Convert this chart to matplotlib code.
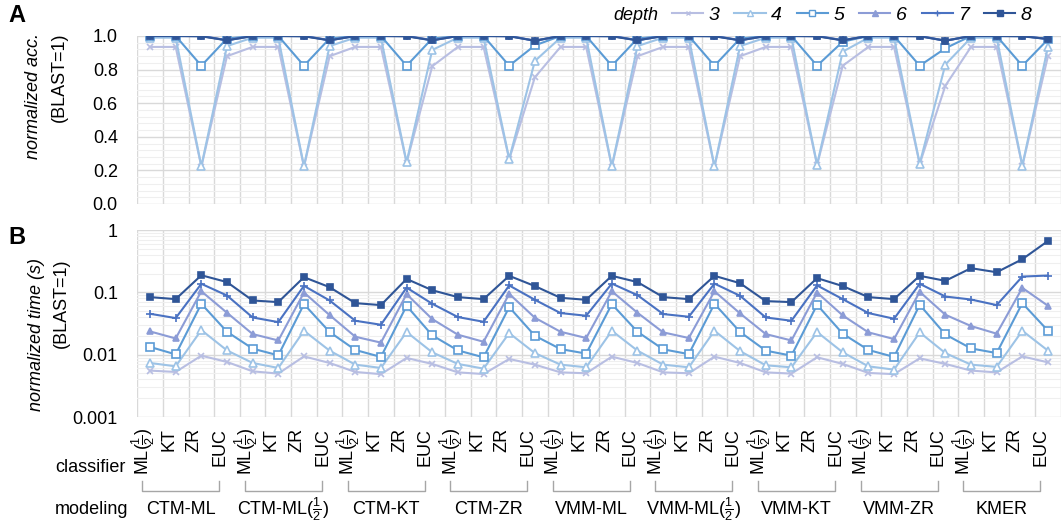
import matplotlib.pyplot as plt
from matplotlib.ticker import FixedLocator, MultipleLocator, NullFormatter, LogLocator
from matplotlib.transforms import ScaledTranslation, blended_transform_factory
from matplotlib.lines import Line2D

plt.rcParams['font.family'] = ['Liberation Sans', 'DejaVu Sans']
plt.rcParams['mathtext.fontset'] = 'custom'
plt.rcParams['mathtext.rm'] = 'Liberation Sans'
plt.rcParams['mathtext.it'] = 'Liberation Sans:italic'

classifiers = [r'ML($\frac{1}{2}$)', 'KT', 'ZR', 'EUC']
models = ['CTM-ML', r'CTM-ML($\frac{1}{2}$)', 'CTM-KT', 'CTM-ZR', 'VMM-ML',
          r'VMM-ML($\frac{1}{2}$)', 'VMM-KT', 'VMM-ZR', 'KMER']
depths = [3, 4, 5, 6, 7, 8]

# normalized accuracy, 4 classifiers per modeling group (ML(1/2), KT, ZR, EUC)
acc_3 = [0.935, 0.935, 0.222, 0.88,  0.935, 0.935, 0.222, 0.88,  0.935, 0.935, 0.246, 0.82,
         0.935, 0.935, 0.266, 0.754, 0.935, 0.935, 0.222, 0.88,  0.935, 0.935, 0.222, 0.88,
         0.935, 0.935, 0.232, 0.823, 0.935, 0.935, 0.238, 0.704, 0.935, 0.935, 0.226, 0.88]
acc_4 = [0.99, 0.99, 0.225, 0.94,  0.99, 0.99, 0.225, 0.94,  0.99, 0.99, 0.249, 0.917,
         0.99, 0.99, 0.269, 0.851, 0.99, 0.99, 0.225, 0.94,  0.99, 0.99, 0.225, 0.94,
         0.99, 0.99, 0.235, 0.907, 0.99, 0.99, 0.241, 0.83,  0.99, 0.99, 0.229, 0.936]
acc_5 = [1.0, 1.0, 0.823, 0.985, 1.0, 1.0, 0.823, 0.985, 1.0, 1.0, 0.823, 0.985,
         1.0, 1.0, 0.823, 0.944, 1.0, 1.0, 0.823, 0.985, 1.0, 1.0, 0.823, 0.985,
         1.0, 1.0, 0.823, 0.966, 1.0, 1.0, 0.823, 0.927, 1.0, 1.0, 0.823, 0.98]
acc_6 = [1.0, 1.0, 1.0, 0.975, 1.0, 1.0, 1.0, 0.975, 1.0, 1.0, 1.0, 0.975,
         1.0, 1.0, 1.0, 0.972, 1.0, 1.0, 1.0, 0.975, 1.0, 1.0, 1.0, 0.975,
         1.0, 1.0, 1.0, 0.975, 1.0, 1.0, 1.0, 0.972, 1.0, 1.0, 1.0, 0.982]
acc_7 = [1.0, 1.0, 1.0, 0.975, 1.0, 1.0, 1.0, 0.975, 1.0, 1.0, 1.0, 0.975,
         1.0, 1.0, 1.0, 0.972, 1.0, 1.0, 1.0, 0.975, 1.0, 1.0, 1.0, 0.975,
         1.0, 1.0, 1.0, 0.975, 1.0, 1.0, 1.0, 0.972, 1.0, 1.0, 1.0, 0.982]
acc_8 = [1.0, 1.0, 0.998, 0.974, 1.0, 1.0, 0.998, 0.974, 1.0, 1.0, 0.998, 0.974,
         1.0, 1.0, 0.998, 0.972, 1.0, 1.0, 0.998, 0.974, 1.0, 1.0, 0.998, 0.974,
         1.0, 1.0, 0.998, 0.974, 1.0, 1.0, 0.998, 0.972, 1.0, 1.0, 0.998, 0.982]

# normalized time (s)
time_3 = [0.00555, 0.00528, 0.00964, 0.00764, 0.0054, 0.00497, 0.00938, 0.00736,
          0.00528, 0.00487, 0.00885, 0.0071, 0.0052, 0.00489, 0.00853, 0.00692,
          0.0052, 0.00503, 0.00929, 0.00736, 0.0052, 0.00503, 0.00929, 0.00736,
          0.0052, 0.00497, 0.00908, 0.0071, 0.00509, 0.00487, 0.00873, 0.0071,
          0.00555, 0.0052, 0.00938, 0.00753]
time_4 = [0.00736, 0.0065, 0.0248, 0.0117, 0.00736, 0.00612, 0.0242, 0.0116,
          0.00692, 0.00612, 0.0231, 0.0109, 0.0071, 0.00597, 0.0222, 0.0106,
          0.00692, 0.00627, 0.0242, 0.0116, 0.00692, 0.00627, 0.0242, 0.0114,
          0.00675, 0.00627, 0.0231, 0.0109, 0.0065, 0.00575, 0.0228, 0.0106,
          0.00692, 0.00636, 0.0242, 0.0116]
time_5 = [0.0133, 0.0101, 0.0655, 0.0233, 0.0125, 0.00975, 0.0647, 0.0231,
          0.0119, 0.00919, 0.0608, 0.0204, 0.0117, 0.00906, 0.0579, 0.0201,
          0.0123, 0.0104, 0.0647, 0.0233, 0.0122, 0.0102, 0.0655, 0.0231,
          0.0116, 0.00964, 0.0631, 0.0217, 0.0119, 0.00919, 0.0631, 0.0211,
          0.0126, 0.0106, 0.0671, 0.0242]
time_6 = [0.0236, 0.0182, 0.104, 0.047, 0.0214, 0.0169, 0.0993, 0.0431,
          0.0194, 0.0156, 0.0935, 0.0372, 0.0209, 0.0161, 0.0946, 0.0391,
          0.0233, 0.0185, 0.104, 0.047, 0.0228, 0.0185, 0.104, 0.0458,
          0.0214, 0.0169, 0.0993, 0.0426, 0.0228, 0.0178, 0.102, 0.0437,
          0.0288, 0.0217, 0.118, 0.0608]
time_7 = [0.0453, 0.0386, 0.137, 0.0889, 0.0395, 0.0333, 0.127, 0.074,
          0.035, 0.0302, 0.119, 0.0655, 0.0401, 0.0337, 0.129, 0.0759,
          0.0465, 0.0421, 0.138, 0.0901, 0.0448, 0.0406, 0.138, 0.0879,
          0.0395, 0.035, 0.129, 0.0778, 0.0465, 0.0377, 0.137, 0.0857,
          0.0767, 0.0624, 0.179, 0.186]
time_8 = [0.0838, 0.0778, 0.188, 0.146, 0.074, 0.0697, 0.175, 0.121,
          0.0671, 0.0624, 0.164, 0.108, 0.0838, 0.0778, 0.184, 0.126,
          0.0817, 0.0759, 0.184, 0.146, 0.0838, 0.0778, 0.184, 0.14,
          0.0723, 0.0697, 0.169, 0.126, 0.0838, 0.0778, 0.184, 0.153,
          0.244, 0.21, 0.34, 0.667]

acc = [acc_3, acc_4, acc_5, acc_6, acc_7, acc_8]
times = [time_3, time_4, time_5, time_6, time_7, time_8]

COLORS = ['#B8BEE2', '#9DC3E6', '#5B9BD5', '#8C9CD6', '#4A72C2', '#2F5597']
MARKERS = ['x', '^', 's', '^', '+', 's']
FILLED = [True, False, False, True, True, True]
MSIZE = [4, 6, 6, 5, 6, 5]

W, H = 1061, 523
fig = plt.figure(figsize=(W / 100, H / 100), dpi=100)
left = 137.2 / W
width = 923.6 / W
axA = fig.add_axes([left, 1 - 204 / H, width, 168 / H])
axB = fig.add_axes([left, 1 - 417 / H, width, 187 / H])

x = list(range(len(models) * len(classifiers)))

for ax, data in [(axA, acc), (axB, times)]:
    for i, d in enumerate(depths):
        ax.plot(x, data[i], marker=MARKERS[i], color=COLORS[i],
                markersize=MSIZE[i], linewidth=1.5,
                markerfacecolor=COLORS[i] if FILLED[i] else 'white',
                markeredgewidth=1.2, label=str(d))
    ax.set_xlim(-0.5, len(x) - 0.5)
    ax.xaxis.set_minor_locator(FixedLocator([k - 0.5 for k in range(len(x) + 1)]))
    ax.grid(axis='x', which='minor', color='#D9D9D9', linewidth=1)
    ax.grid(axis='y', which='major', color='#D9D9D9', linewidth=1)
    ax.grid(axis='y', which='minor', color='#EFEFEF', linewidth=0.8)
    ax.set_axisbelow(True)
    for s in ax.spines.values():
        s.set_visible(False)
    ax.tick_params(which='both', length=0, labelsize=13)
    ax.tick_params(axis='y', pad=14)

# panel A
axA.set_ylim(0, 1)
axA.yaxis.set_major_locator(MultipleLocator(0.2))
axA.yaxis.set_minor_locator(MultipleLocator(0.04))
axA.set_yticklabels([f'{v:.1f}' for v in axA.get_yticks()])
axA.set_xticks(x)
axA.set_xticklabels([])

# panel B
axB.set_yscale('log')
axB.set_ylim(0.001, 1)
axB.yaxis.set_major_locator(FixedLocator([0.001, 0.01, 0.1, 1]))
axB.set_yticklabels(['0.001', '0.01', '0.1', '1'])
axB.yaxis.set_minor_locator(LogLocator(base=10, subs=range(2, 10)))
axB.yaxis.set_minor_formatter(NullFormatter())
axB.set_xticks(x)
axB.set_xticklabels(classifiers * len(models), rotation=90, fontsize=13)
axB.tick_params(axis='x', pad=8)
shift = ScaledTranslation(-0.07, 0, fig.dpi_scale_trans)
for lab in axB.get_xticklabels():
    lab.set_transform(lab.get_transform() + shift)

# brackets and modeling names
trans = blended_transform_factory(axB.transData, fig.transFigure)
y_line = 1 - 491 / H
y_tick = 1 - 481 / H
for g, name in enumerate(models):
    x0 = 4 * g - 0.3
    x1 = 4 * g + 3 - 0.3
    axB.plot([x0, x0, x1, x1], [y_tick, y_line, y_line, y_tick], color='#A6A6A6',
             linewidth=1, transform=trans, clip_on=False)
    axB.text((x0 + x1) / 2, 1 - 509 / H, name, transform=trans,
             ha='center', va='center', fontsize=13)

fig.text(55 / W, 1 - 468 / H, 'classifier', ha='left', va='center', fontsize=13)
fig.text(55 / W, 1 - 509 / H, 'modeling', ha='left', va='center', fontsize=13)

# y labels
fig.text(34 / W, 1 - 33 / H, 'normalized acc.', rotation=90, ha='center', va='top',
         fontsize=13, style='italic')
fig.text(59 / W, 1 - 33 / H, '(BLAST=1)', rotation=90, ha='center', va='top', fontsize=13)
fig.text(37 / W, 1 - 258 / H, 'normalized time (s)', rotation=90, ha='center', va='top',
         fontsize=13, style='italic')
fig.text(61 / W, 1 - 258 / H, '(BLAST=1)', rotation=90, ha='center', va='top', fontsize=13)

# panel letters
fig.text(8 / W, 1 - 15 / H, 'A', fontsize=17, fontweight='bold', ha='left', va='center')
fig.text(8 / W, 1 - 238 / H, 'B', fontsize=17, fontweight='bold', ha='left', va='center')

# legend
handles = [Line2D([], [], marker=MARKERS[i], color=COLORS[i], markersize=MSIZE[i] - 1,
                  linewidth=1.5,
                  markerfacecolor=COLORS[i] if FILLED[i] else 'white',
                  markeredgewidth=1.0) for i in range(len(depths))]
fig.text(613 / W, 1 - 15 / H, 'depth', fontsize=13, style='italic', ha='left', va='center')
fig.legend(handles, [str(d) for d in depths], loc='center left',
           bbox_to_anchor=(672 / W, 1 - 15 / H), ncol=6, frameon=False,
           prop={'size': 14, 'style': 'italic'}, handlelength=1.6, handletextpad=0.3,
           columnspacing=0.75, borderpad=0, borderaxespad=0)

fig.savefig('out.png', dpi=100)
